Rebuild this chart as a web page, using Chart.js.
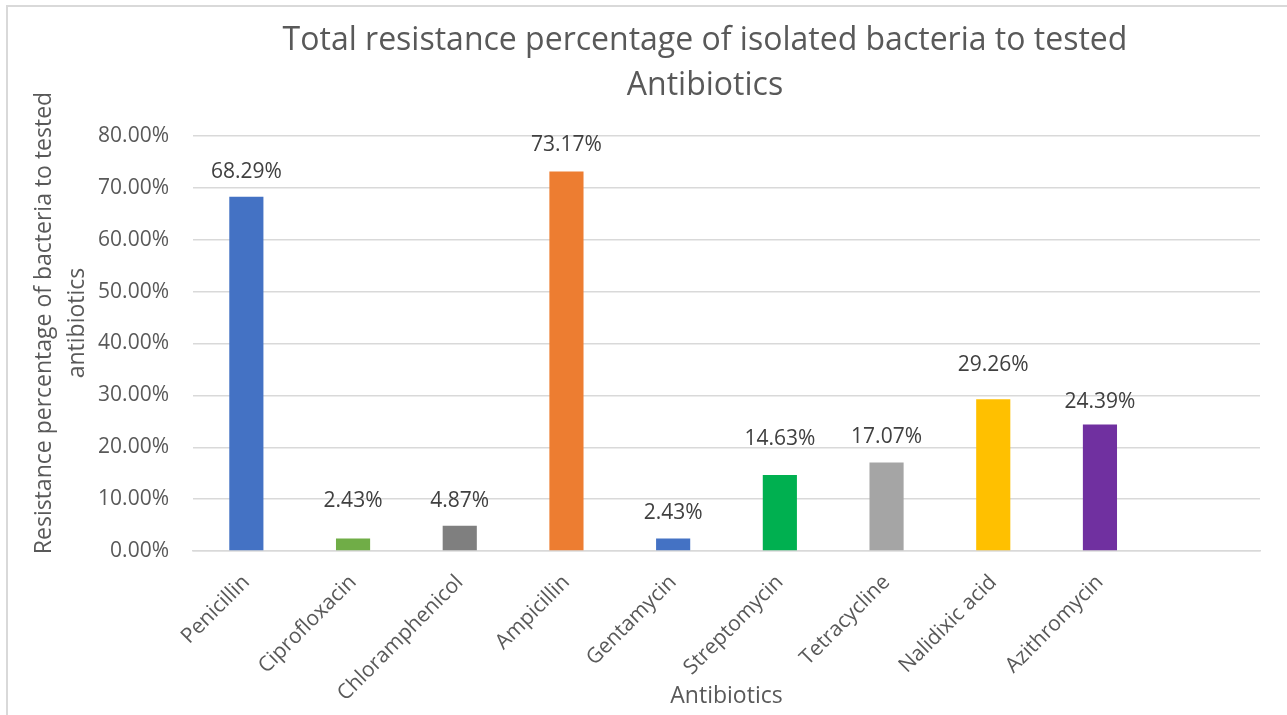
<!DOCTYPE html>
<html>
<head>
<meta charset="utf-8">
<title>Total resistance percentage of isolated bacteria to tested Antibiotics</title>
<script src="https://cdn.jsdelivr.net/npm/chart.js@4/dist/chart.umd.min.js"></script>
<style>
  html, body { margin: 0; padding: 0; background: #ffffff; }
  #wrap { width: 1287px; height: 715px; position: relative; }
</style>
</head>
<body>
<div id="wrap"><canvas id="chart" width="1287" height="715"></canvas></div>
<script>
// Antibiotics tested (last slot left empty, as in the original worksheet)
const antibiotics = ['Penicillin', 'Ciprofloxacin', 'Chloramphenicol', 'Ampicillin', 'Gentamycin',
  'Streptomycin', 'Tetracycline', 'Nalidixic acid', 'Azithromycin', ''];
// Resistance percentage per antibiotic
const resistance = [68.29, 2.43, 4.87, 73.17, 2.43, 14.63, 17.07, 29.26, 24.39, null];
// Bar fill colours
const barColors = ['#4472C4', '#70AD47', '#7F7F7F', '#ED7D31', '#4472C4',
  '#00B050', '#A5A5A5', '#FFC000', '#7030A0', '#4472C4'];
// Value-axis ticks
const yTicks = [0, 10, 20, 30, 40, 50, 60, 70, 80];

const titleLines = ['Total resistance percentage of isolated bacteria to tested', 'Antibiotics'];
const yTitleLines = ['Resistance percentage of bacteria to tested', 'antibiotics'];
const xTitle = 'Antibiotics';

// Extra upward nudge (px) for individual value labels
const labelNudge = [0, 12, 0, 1, 0, 11, 0, 9, -3, 0];

const FONT = '"Open Sans", "Liberation Sans", sans-serif';
const GREY = '#595959';

const decorations = {
  id: 'decorations',
  beforeDraw(chart) {
    const ctx = chart.ctx;
    ctx.save();
    ctx.fillStyle = '#ffffff';
    ctx.fillRect(0, 0, chart.width, chart.height);
    ctx.strokeStyle = '#d9d9d9';
    ctx.lineWidth = 2;
    ctx.strokeRect(7, 6, chart.width + 20, chart.height + 20);
    ctx.restore();
  },
  afterDraw(chart) {
    const ctx = chart.ctx;
    const area = chart.chartArea;
    ctx.save();
    ctx.fillStyle = GREY;
    ctx.textAlign = 'center';
    ctx.textBaseline = 'middle';
    // chart title
    ctx.font = '32px ' + FONT;
    ctx.fillText(titleLines[0], 705, 41);
    ctx.fillText(titleLines[1], 705, 86);
    // x-axis title
    ctx.font = '23px ' + FONT;
    ctx.fillText(xTitle, (area.left + area.right) / 2, 696);
    // y-axis title
    ctx.translate(0, 323);
    ctx.rotate(-Math.PI / 2);
    ctx.fillText(yTitleLines[0], 0, 44);
    ctx.fillText(yTitleLines[1], 0, 77);
    ctx.restore();

    // value labels above bars
    const meta = chart.getDatasetMeta(0);
    ctx.save();
    ctx.fillStyle = '#404040';
    ctx.font = '21px ' + FONT;
    ctx.textAlign = 'center';
    ctx.textBaseline = 'middle';
    meta.data.forEach((bar, i) => {
      const v = resistance[i];
      if (v === null || v === undefined) return;
      ctx.fillText(v.toFixed(2) + '%', bar.x, bar.y - 25 - labelNudge[i]);
    });
    ctx.restore();
  }
};

new Chart(document.getElementById('chart'), {
  type: 'bar',
  data: {
    labels: antibiotics,
    datasets: [{
      data: resistance,
      backgroundColor: barColors,
      borderWidth: 0,
      barPercentage: 0.32,
      categoryPercentage: 1.0
    }]
  },
  options: {
    responsive: false,
    animation: false,
    devicePixelRatio: 1,
    layout: { padding: { left: 0, right: 27, top: 136, bottom: 0 } },
    plugins: {
      legend: { display: false },
      title: { display: false },
      tooltip: { enabled: false }
    },
    scales: {
      x: {
        afterFit(scale) { scale.height = 164; },
        grid: { display: false, drawTicks: false },
        border: { display: true, color: '#d9d9d9', width: 1.5 },
        ticks: {
          autoSkip: false,
          minRotation: 45,
          maxRotation: 45,
          padding: 19,
          color: GREY,
          font: { family: FONT, size: 21 }
        }
      },
      y: {
        min: 0,
        max: 80,
        afterFit(scale) { scale.width = 193; },
        afterBuildTicks(scale) { scale.ticks = yTicks.map(v => ({ value: v })); },
        grid: { color: '#d9d9d9', lineWidth: 1.5, drawTicks: false },
        border: { display: false },
        ticks: {
          padding: 24,
          color: GREY,
          font: { family: FONT, size: 21 },
          callback: v => v.toFixed(2) + '%'
        }
      }
    }
  },
  plugins: [decorations]
});
</script>
</body>
</html>
